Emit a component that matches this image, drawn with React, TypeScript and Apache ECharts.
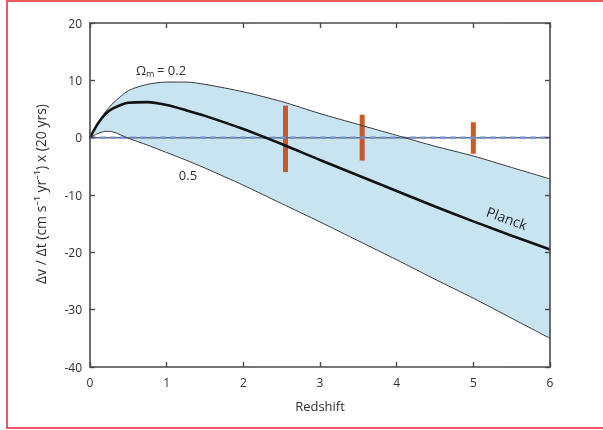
import React, { useEffect, useRef } from "react";
import * as echarts from "echarts";

// Redshift sample points
const redshift = [0, 0.1, 0.2, 0.3, 0.5, 0.75, 1, 1.25, 1.5, 2, 2.5, 3, 3.5, 4, 4.5, 5, 5.5, 6];
// Omega_m = 0.2 (upper envelope)
const omega02 = [0, 2.3, 4.5, 6.0, 8.2, 9.3, 9.7, 9.7, 9.3, 8.0, 6.3, 4.2, 2.3, 0.4, -1.5, -3.2, -5.2, -7.2];
// Planck cosmology
const planck = [0, 2.4, 4.1, 5.1, 6.1, 6.2, 5.7, 4.8, 3.8, 1.5, -1.1, -3.9, -6.6, -9.3, -12.0, -14.6, -17.1, -19.5];
// Omega_m = 0.5 (lower envelope)
const omega05 = [0, 0.7, 1.1, 1.0, -0.1, -1.3, -2.6, -3.9, -5.3, -8.3, -11.5, -14.7, -18.0, -21.3, -24.7, -28.0, -31.5, -35.0];
// Error bars
const barZ = [2.55, 3.55, 5.0];
const barHi = [5.6, 4.0, 2.7];
const barLo = [-6.0, -4.0, -2.8];
// Axis ticks
const xTicks = { min: 0, max: 6, step: 1 };
const yTicks = { min: -40, max: 20, step: 10 };
const yTitle = "Δv / Δt (cm s⁻¹ yr⁻¹) x (20 yrs)";
const xTitle = "Redshift";

const FONT = "'Open Sans', 'Noto Sans', sans-serif";

export default function App() {
  const ref = useRef<HTMLDivElement>(null);
  useEffect(() => {
    if (!ref.current) return;
    const chart = echarts.init(ref.current, undefined, { renderer: "svg" });
    const pairs = (ys: number[]) => redshift.map((z, i) => [z, ys[i]]);
    const axisLine = { show: true, onZero: false, lineStyle: { color: "#4a4a4a", width: 1.6 } };
    const axisTick = { show: true, inside: true, length: 5, lineStyle: { color: "#4a4a4a", width: 1.4 } };
    const label = { color: "#2e2e2e", fontSize: 12, fontFamily: FONT };
    const SM = 0.25;
    chart.setOption({
      animation: false,
      grid: { left: 90, right: 53, top: 23, bottom: 63 },
      xAxis: [
        {
          type: "value", min: xTicks.min, max: xTicks.max, interval: xTicks.step, z: 10,
          axisLine, axisTick, splitLine: { show: false },
          axisLabel: { ...label, margin: 9 },
          name: xTitle, nameLocation: "middle", nameGap: 32,
          nameTextStyle: { color: "#2e2e2e", fontSize: 13, fontFamily: FONT },
        },
        {
          type: "value", position: "top", min: xTicks.min, max: xTicks.max, interval: xTicks.step, z: 10,
          axisLine, axisTick, splitLine: { show: false }, axisLabel: { show: false },
        },
      ],
      yAxis: [
        {
          type: "value", min: yTicks.min, max: yTicks.max, interval: yTicks.step, z: 10,
          axisLine, axisTick, splitLine: { show: false },
          axisLabel: { ...label, margin: 8 },
        },
        {
          type: "value", position: "right", min: yTicks.min, max: yTicks.max, interval: yTicks.step, z: 10,
          axisLine, axisTick, splitLine: { show: false }, axisLabel: { show: false },
        },
      ],
      series: [
        {
          type: "line", data: pairs(omega02), symbol: "none", smooth: SM, z: 1,
          lineStyle: { opacity: 0 }, areaStyle: { color: "#c9e4f1", opacity: 1, origin: "start" }, silent: true,
        },
        {
          type: "line", data: pairs(omega05), symbol: "none", smooth: SM, z: 1,
          lineStyle: { opacity: 0 }, areaStyle: { color: "#ffffff", opacity: 1, origin: "start" }, silent: true,
        },
        {
          type: "line", data: [[xTicks.min, 0], [xTicks.max, 0]], symbol: "none",
          lineStyle: { color: "#6b6b6b", width: 1.5 }, silent: true,
        },
        {
          type: "line", data: [[xTicks.min, 0], [xTicks.max, 0]], symbol: "none",
          lineStyle: { color: "#6f93d6", width: 2.2, type: [6, 4] }, silent: true,
        },
        {
          type: "line", data: pairs(omega02), symbol: "none", smooth: SM,
          lineStyle: { color: "#3a3a3a", width: 1 }, silent: true,
        },
        {
          type: "line", data: pairs(omega05), symbol: "none", smooth: SM,
          lineStyle: { color: "#3a3a3a", width: 1 }, silent: true,
        },
        {
          type: "line", data: pairs(planck), symbol: "none", smooth: SM,
          lineStyle: { color: "#111", width: 2.6 }, silent: true,
        },
        {
          type: "custom",
          data: barZ.map((z, i) => [z, barHi[i], barLo[i]]),
          encode: { x: 0, y: [1, 2] },
          renderItem: (params: any, api: any) => {
            const z = api.value(0);
            const p1 = api.coord([z, api.value(1)]);
            const p2 = api.coord([z, api.value(2)]);
            return {
              type: "rect",
              shape: { x: p1[0] - 2.5, y: p1[1], width: 5, height: p2[1] - p1[1] },
              style: { fill: "#c8592b" },
            };
          },
          silent: true,
        },
      ],
      graphic: {
        elements: [
          {
            id: "frame", type: "rect", z: 100, shape: { x: 7, y: 1, width: 640, height: 427 },
            style: { fill: "none", stroke: "#e8262a", lineWidth: 1.5 }, silent: true,
          },
          {
            id: "ytitle", type: "text", z: 100, x: 40, y: 194, rotation: Math.PI / 2,
            style: { text: yTitle, fontSize: 14, fill: "#2e2e2e", fontFamily: FONT, align: "center", verticalAlign: "middle" },
          },
          { id: "omA", type: "text", z: 100, x: 136, y: 63, style: { text: "Ω", fontSize: 13, fill: "#2e2e2e", fontFamily: FONT, verticalAlign: "top" } },
          { id: "omS", type: "text", z: 100, x: 146, y: 69, style: { text: "m", fontSize: 9, fill: "#2e2e2e", fontFamily: FONT, verticalAlign: "top" } },
          { id: "omB", type: "text", z: 100, x: 157, y: 63, style: { text: "= 0.2", fontSize: 13, fill: "#2e2e2e", fontFamily: FONT, verticalAlign: "top" } },
          {
            id: "lbl05", type: "text", z: 100, x: 188, y: 175,
            style: { text: "0.5", fontSize: 13, fill: "#2e2e2e", fontFamily: FONT, align: "center", verticalAlign: "middle" },
          },
          {
            id: "lblPlanck", type: "text", z: 100, x: 507, y: 218, rotation: -0.35,
            style: { text: "Planck", fontSize: 14, fill: "#1c1c2c", fontFamily: FONT, align: "center", verticalAlign: "middle" },
          },
        ],
      },
    });
    return () => chart.dispose();
  }, []);
  return <div ref={ref} style={{ position: "fixed", left: 0, top: 0, width: 603, height: 430 }} />;
}
